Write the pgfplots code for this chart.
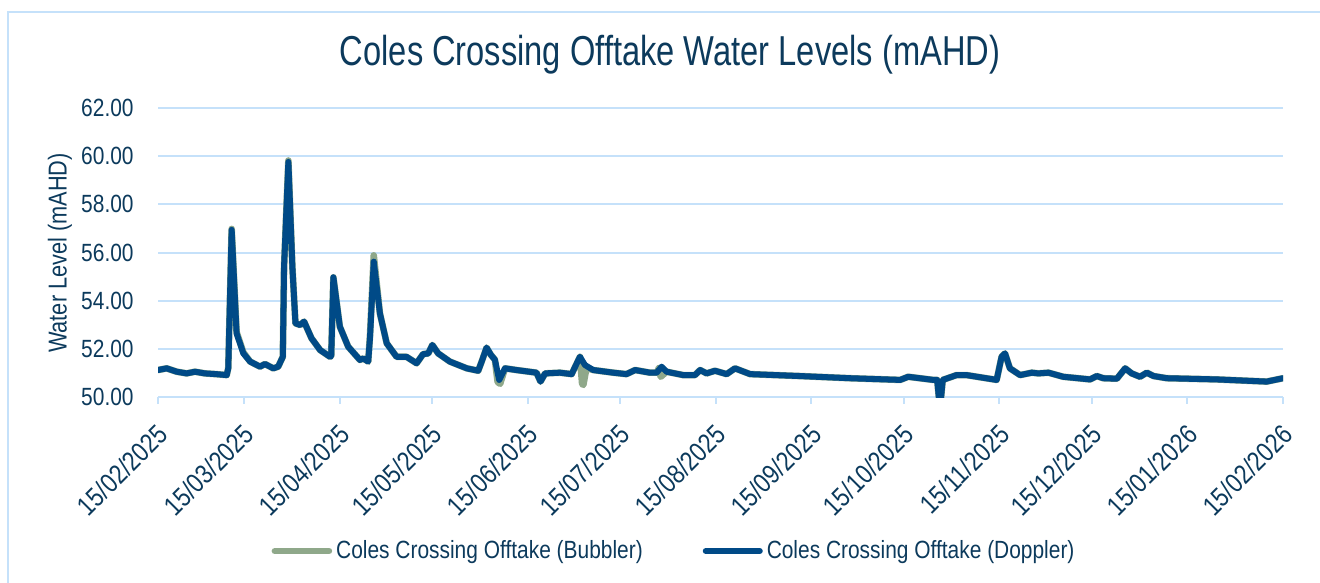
\documentclass[border=0pt]{standalone}
\usepackage{fontspec}
\setmainfont{Liberation Sans}[FakeStretch=0.84]
\newfontfamily\titlefont{Liberation Sans}[FakeStretch=0.78]
\usepackage{pgfplots}
\pgfplotsset{compat=1.18}
\definecolor{navy}{RGB}{12,58,92}
\definecolor{dop}{RGB}{0,74,135}
\definecolor{bub}{RGB}{143,168,138}
\definecolor{gridb}{RGB}{197,225,250}
\begin{document}
\begin{tikzpicture}
\begin{axis}[
  at={(0,0)}, anchor=south west,
  scale only axis, width=562.5bp, height=144.5bp,
  xmin=0, xmax=365, ymin=50, ymax=62,
  axis line style={draw=none},
  grid=none, ymajorgrids, yminorgrids=false,
  major grid style={draw=gridb, line width=1bp},
  xtick={0,28,59,89,120,150,181,212,242,273,303,334,365},
  xticklabels={15/02/2025,15/03/2025,15/04/2025,15/05/2025,15/06/2025,15/07/2025,15/08/2025,15/09/2025,15/10/2025,15/11/2025,15/12/2025,15/01/2026,15/02/2026},
  ytick={50,52,54,56,58,60,62},
  xtick pos=left, ytick pos=left,
  tick align=outside,
  x tick style={draw=gridb, line width=1bp},
  major tick length=3.5bp,
  y tick style={draw=none},
  yticklabel style={/pgf/number format/.cd, fixed, fixed zerofill, precision=2, /tikz/.cd},
  /pgf/number format/assume math mode=true,
  ticklabel style={font=\fontsize{12.5}{14}\selectfont, text=navy},
  xticklabel style={font=\fontsize{13.6}{15}\selectfont, xshift=3.2bp, yshift=-12bp, rotate=45, anchor=east, inner sep=1bp},
  yticklabel style={inner sep=0pt, xshift=-8.5bp},
  clip=true,
  legend style={at={(0.4596,-0.533)}, anchor=center, draw=none, fill=none,
    legend columns=2, font=\fontsize{12.5}{14}\selectfont, text=navy,
    /tikz/every even column/.append style={column sep=28bp}},
  legend cell align=left,
  legend image code/.code={\draw[#1, line cap=round] (0bp,0bp) -- (27bp,0bp);},
  every axis plot/.append style={line join=round, line cap=round},
]
% Bubbler
\addplot[bub, line width=3.3bp] coordinates {
(0,51.12)(2.8,51.19)(6.1,51.05)(9.3,50.98)(12.0,51.05)(15.2,50.98)(18.8,50.95)(22.3,50.91)(22.8,51.2)
(23.9,56.98)(25.5,52.7)(27.7,51.85)(29.9,51.47)(33.1,51.26)(34.7,51.37)(37.4,51.19)(39.0,51.26)(40.5,51.67)
(40.9,55.4)(42.3,59.82)(43.6,55.4)(44.6,53.06)(46.1,52.99)(47.4,53.13)(49.8,52.44)(52.6,51.95)(55.8,51.67)(56.2,51.7)
(56.9,54.97)(59.0,52.92)(61.7,52.09)(65.5,51.54)(66.6,51.6)(68.2,51.47)(68.8,52.6)(70.0,55.88)(72.0,53.47)(74.2,52.23)
(77.4,51.67)(80.6,51.67)(83.9,51.4)(86.0,51.78)(87.7,51.81)(89.0,52.16)(90.9,51.81)(94.7,51.47)(100.2,51.19)(103.9,51.09)
(105.1,51.5)(106.6,52.05)(108.0,51.75)(109.3,51.55)(110.2,50.62)(111.0,50.55)(112.6,51.19)(116.3,51.12)(122.8,51.01)(124.1,50.64)
(125.6,50.98)(130.4,51.01)(134.2,50.95)(136.9,51.67)(137.6,50.55)(138.0,50.5)(139.0,51.2)(141.2,51.12)(147.7,51.01)(152.0,50.95)
(154.8,51.12)(159.6,51.01)(161.8,51.01)(162.5,51.2)(163.1,50.84)(165.0,51.05)(170.4,50.91)(174.2,50.91)(175.9,51.12)(178.0,50.98)
(180.7,51.09)(184.5,50.95)(187.2,51.19)(192.1,50.95)(208.3,50.87)(224.5,50.78)(240.8,50.71)(243.4,50.84)(251.5,50.71)(252.8,50.71)
(253.7,49.5)(254.6,50.71)(259.1,50.91)(262.3,50.91)(272.1,50.71)(273.7,51.67)(274.8,51.81)(276.4,51.19)(279.7,50.91)(283.5,51.01)
(285.6,50.98)(288.9,51.01)(293.7,50.84)(302.4,50.73)(304.6,50.87)(306.7,50.78)(311.1,50.76)(313.8,51.19)(315.9,50.98)(318.6,50.84)
(320.8,51.01)(323.0,50.87)(327.3,50.78)(343.5,50.73)(359.7,50.64)(365,50.78)
};
\addlegendentry{Coles Crossing Offtake (Bubbler)}
% Doppler
\addplot[dop, line width=3bp] coordinates {
(0,51.12)(2.8,51.19)(6.1,51.05)(9.3,50.98)(12.0,51.05)(15.2,50.98)(18.8,50.95)(22.3,50.91)(22.8,51.2)
(23.9,56.94)(25.5,52.64)(27.7,51.81)(29.9,51.47)(33.1,51.26)(34.7,51.37)(37.4,51.19)(39.0,51.26)(40.5,51.67)
(40.9,55.4)(42.3,59.76)(43.6,55.4)(44.6,53.06)(46.1,52.99)(47.4,53.13)(49.8,52.44)(52.6,51.95)(55.8,51.67)(56.2,51.7)
(56.9,54.97)(59.0,52.92)(61.7,52.09)(65.5,51.54)(66.6,51.6)(68.2,51.47)(68.8,52.5)(70.0,55.62)(72.0,53.47)(74.2,52.23)
(77.4,51.67)(80.6,51.67)(83.9,51.4)(86.0,51.78)(87.7,51.81)(89.0,52.16)(90.9,51.81)(94.7,51.47)(100.2,51.19)(103.9,51.09)
(105.1,51.5)(106.6,52.05)(108.0,51.75)(109.3,51.55)(110.7,50.71)(112.6,51.19)(116.3,51.12)(122.8,51.01)(124.1,50.64)
(125.6,50.98)(130.4,51.01)(134.2,50.95)(136.9,51.67)(138.5,51.33)(141.2,51.12)(147.7,51.01)(152.0,50.95)
(154.8,51.12)(159.6,51.01)(161.8,51.01)(163.4,51.26)(165.0,51.05)(170.4,50.91)(174.2,50.91)(175.9,51.12)(178.0,50.98)
(180.7,51.09)(184.5,50.95)(187.2,51.19)(192.1,50.95)(208.3,50.87)(224.5,50.78)(240.8,50.71)(243.4,50.84)(251.5,50.71)(252.8,50.71)
(253.7,49.5)(254.6,50.71)(259.1,50.91)(262.3,50.91)(272.1,50.71)(273.7,51.67)(274.8,51.81)(276.4,51.19)(279.7,50.91)(283.5,51.01)
(285.6,50.98)(288.9,51.01)(293.7,50.84)(302.4,50.73)(304.6,50.87)(306.7,50.78)(311.1,50.76)(313.8,51.19)(315.9,50.98)(318.6,50.84)
(320.8,51.01)(323.0,50.87)(327.3,50.78)(343.5,50.73)(359.7,50.64)(365,50.78)
};
\addlegendentry{Coles Crossing Offtake (Doppler)}
\end{axis}
\node[text=navy, font=\titlefont\fontsize{21}{24}\selectfont] at (256bp,171bp) {Coles Crossing Offtake Water Levels (mAHD)};
\node[text=navy, font=\fontsize{13}{15}\selectfont, rotate=90] at (-49bp,72bp) {Water Level (mAHD)};
\draw[gridb, line width=1bp] (-75bp,-100bp) -- (-75bp,192.5bp) -- (590bp,192.5bp);
\pgfresetboundingbox
\useasboundingbox (-79bp,-93bp) rectangle (581bp,198.5bp);
\end{tikzpicture}
\end{document}
